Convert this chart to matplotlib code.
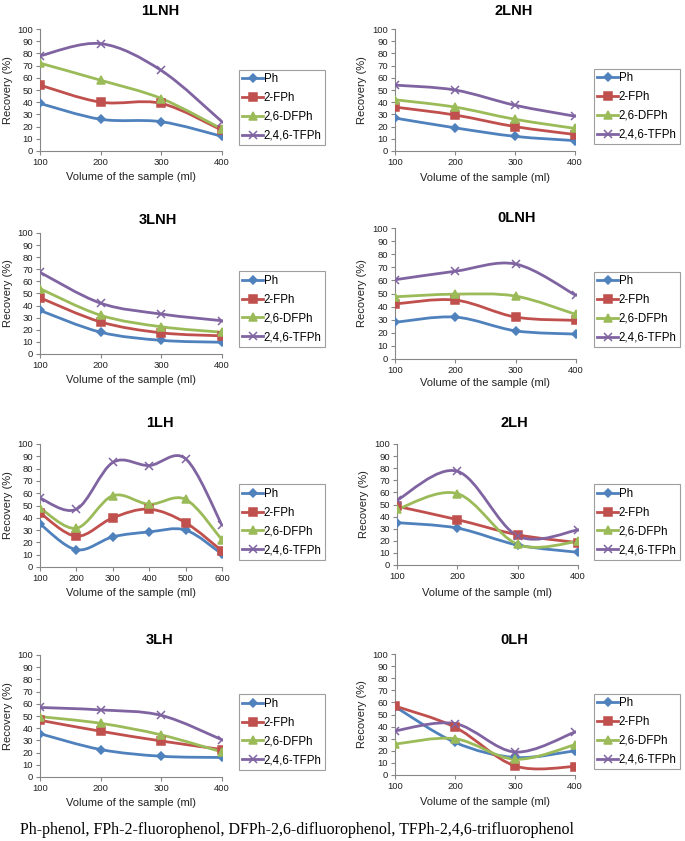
import numpy as np
import matplotlib
matplotlib.use("Agg")
import matplotlib.pyplot as plt
from matplotlib.path import Path
from matplotlib.patches import PathPatch
from matplotlib.lines import Line2D

plt.rcParams['font.family'] = ['Liberation Sans', 'DejaVu Sans']

series_names = ["Ph", "2-FPh", "2,6-DFPh", "2,4,6-TFPh"]
colors = ["#4F81BD", "#C0504D", "#9BBB59", "#8064A2"]
markers = ["D", "s", "^", "x"]
msizes = [4.3, 6.3, 6.3, 6.0]

vol4 = [100, 200, 300, 400]
vol6 = [100, 200, 300, 400, 500, 600]

# Recovery (%) per panel: Ph, 2-FPh, 2,6-DFPh, 2,4,6-TFPh
lnh1_ph = [39, 26, 24, 12]
lnh1_fph = [54, 40, 39, 17]
lnh1_dfph = [72, 58, 43, 18]
lnh1_tfph = [78, 88, 66, 24]

lnh2_ph = [27, 19, 12, 8.5]
lnh2_fph = [36, 29.5, 20, 13.5]
lnh2_dfph = [42, 36, 26, 18.5]
lnh2_tfph = [54, 50, 37.5, 28.5]

lnh3_ph = [36, 18, 11.3, 9.7]
lnh3_fph = [46.5, 26.5, 17.5, 15]
lnh3_dfph = [54, 32, 22.5, 18]
lnh3_tfph = [67.5, 42, 33, 27.5]

lnh0_ph = [28, 32, 21.5, 19]
lnh0_fph = [42, 45, 32, 29.5]
lnh0_dfph = [47.5, 49.5, 48, 34]
lnh0_tfph = [60.5, 67, 72.5, 48.5]

lh1_ph = [35, 14, 24.5, 28.5, 30, 10.5]
lh1_fph = [44, 25, 40, 47, 36, 13]
lh1_dfph = [48, 31.5, 58, 51, 55, 22]
lh1_tfph = [56, 47, 85, 82.5, 88, 34]

lh2_ph = [35, 30.5, 16.5, 10.5]
lh2_fph = [48.5, 37.5, 25, 18.5]
lh2_dfph = [46, 59, 17, 19.5]
lh2_tfph = [53.5, 77.5, 24, 29]

lh3_ph = [35.5, 22.5, 17, 16]
lh3_fph = [46.5, 37.5, 29.5, 22.5]
lh3_dfph = [49.5, 44, 34.5, 20.5]
lh3_tfph = [57, 55, 50.5, 30.5]

lh0_ph = [56.5, 27, 14.5, 20]
lh0_fph = [57, 39.5, 7.5, 7]
lh0_dfph = [25.5, 30, 13, 25]
lh0_tfph = [36.5, 42.5, 19, 35.5]

panels = [
    ("1LNH", vol4, [lnh1_ph, lnh1_fph, lnh1_dfph, lnh1_tfph]),
    ("2LNH", vol4, [lnh2_ph, lnh2_fph, lnh2_dfph, lnh2_tfph]),
    ("3LNH", vol4, [lnh3_ph, lnh3_fph, lnh3_dfph, lnh3_tfph]),
    ("0LNH", vol4, [lnh0_ph, lnh0_fph, lnh0_dfph, lnh0_tfph]),
    ("1LH", vol6, [lh1_ph, lh1_fph, lh1_dfph, lh1_tfph]),
    ("2LH", vol4, [lh2_ph, lh2_fph, lh2_dfph, lh2_tfph]),
    ("3LH", vol4, [lh3_ph, lh3_fph, lh3_dfph, lh3_tfph]),
    ("0LH", vol4, [lh0_ph, lh0_fph, lh0_dfph, lh0_tfph]),
]

# layout in pixels: axes (left, right, top, bottom), legend (left, top, right, bottom),
# title (x, y), xlabel y, ylabel x
W, H = 685, 841
layout = [
    dict(ax=(40, 222, 29, 151), leg=(239, 70, 325, 145), title=(160, 11), xl=177, yl=8),
    dict(ax=(395, 575, 29, 151), leg=(594, 69, 680, 144), title=(514, 11), xl=178, yl=362),
    dict(ax=(40, 222, 233, 354), leg=(239, 271, 325, 347), title=(158, 220), xl=380, yl=8),
    dict(ax=(395, 576, 228, 359), leg=(594, 272, 680, 347), title=(517, 218), xl=383, yl=362),
    dict(ax=(40, 222, 444, 567), leg=(239, 486, 325, 558), title=(160, 423), xl=593, yl=8),
    dict(ax=(397, 578, 444, 565), leg=(594, 486, 682, 558), title=(514, 423), xl=593, yl=364),
    dict(ax=(40, 222, 655, 777), leg=(239, 696, 325, 768), title=(160, 640), xl=803, yl=8),
    dict(ax=(395, 575, 654, 775), leg=(594, 695, 680, 768), title=(514, 640), xl=802, yl=362),
]


def smooth_path(x, y):
    x = np.asarray(x, float)
    y = np.asarray(y, float)
    pts = np.column_stack([x, y])
    n = len(pts)
    verts = [pts[0]]
    codes = [Path.MOVETO]
    for i in range(n - 1):
        p0 = pts[i - 1] if i > 0 else pts[i]
        p1 = pts[i]
        p2 = pts[i + 1]
        p3 = pts[i + 2] if i + 2 < n else pts[i + 1]
        c1 = p1 + (p2 - p0) / 6.0
        c2 = p2 - (p3 - p1) / 6.0
        verts += [c1, c2, p2]
        codes += [Path.CURVE4] * 3
    return Path(verts, codes)


fig = plt.figure(figsize=(W / 100, H / 100), dpi=100)
spine_col = "#868686"

for (title, vols, data), lay in zip(panels, layout):
    l, r, t, b = lay["ax"]
    ax = fig.add_axes([l / W, 1 - b / H, (r - l) / W, (b - t) / H])
    xs = np.arange(len(vols))
    for vals, c, m, ms in zip(data, colors, markers, msizes):
        patch = PathPatch(smooth_path(xs, vals), facecolor="none", edgecolor=c,
                          lw=2.0, zorder=2)
        ax.add_patch(patch)
        ax.plot(xs, vals, linestyle="none", marker=m, color=c, ms=ms,
                mew=1.1, zorder=3)
    ax.set_xlim(0, len(vols) - 1)
    ax.set_ylim(0, 100)
    ax.set_yticks(np.arange(0, 101, 10))
    ax.set_xticks(xs)
    ax.set_xticklabels([str(v) for v in vols])
    for s in ["top", "right"]:
        ax.spines[s].set_visible(False)
    for s in ["left", "bottom"]:
        ax.spines[s].set_color(spine_col)
        ax.spines[s].set_linewidth(0.8)
    ax.tick_params(axis="both", labelsize=6.8, colors=spine_col, length=3,
                   width=0.8, labelcolor="#222222", pad=2)
    ax.patch.set_alpha(0)

    fig.text(lay["title"][0] / W, 1 - lay["title"][1] / H, title,
             ha="center", va="center", fontsize=10.5, fontweight="bold")
    fig.text((l + r) / 2 / W, 1 - lay["xl"] / H, "Volume of the sample (ml)",
             ha="center", va="center", fontsize=8.0, color="#222222")
    fig.text(lay["yl"] / W, 1 - ((t + b) / 2) / H, "Recovery (%)",
             ha="center", va="center", rotation=90, fontsize=8.0, color="#222222")

    # legend
    ll, lt, lr, lb = lay["leg"]
    handles = [Line2D([0], [0], color=c, marker=m, ms=ms, lw=2.0, mew=1.1)
               for c, m, ms in zip(colors, markers, msizes)]
    leg = fig.legend(handles, series_names, loc="center left",
                     bbox_to_anchor=(ll / W, 1 - lb / H, (lr - ll) / W, (lb - lt) / H),
                     fontsize=8.3, frameon=True, fancybox=False,
                     borderpad=0.3, labelspacing=0.6, handlelength=1.8,
                     handletextpad=0.05, borderaxespad=0.0)
    leg.get_frame().set_edgecolor(spine_col)
    leg.get_frame().set_linewidth(0.8)

fig.text(20 / W, 1 - 830 / H,
         "Ph-phenol, FPh-2-fluorophenol, DFPh-2,6-difluorophenol, TFPh-2,4,6-trifluorophenol",
         ha="left", va="center", fontsize=11.5, family=["Liberation Serif", "DejaVu Serif"])

fig.savefig("out.png", dpi=100, facecolor="white")
